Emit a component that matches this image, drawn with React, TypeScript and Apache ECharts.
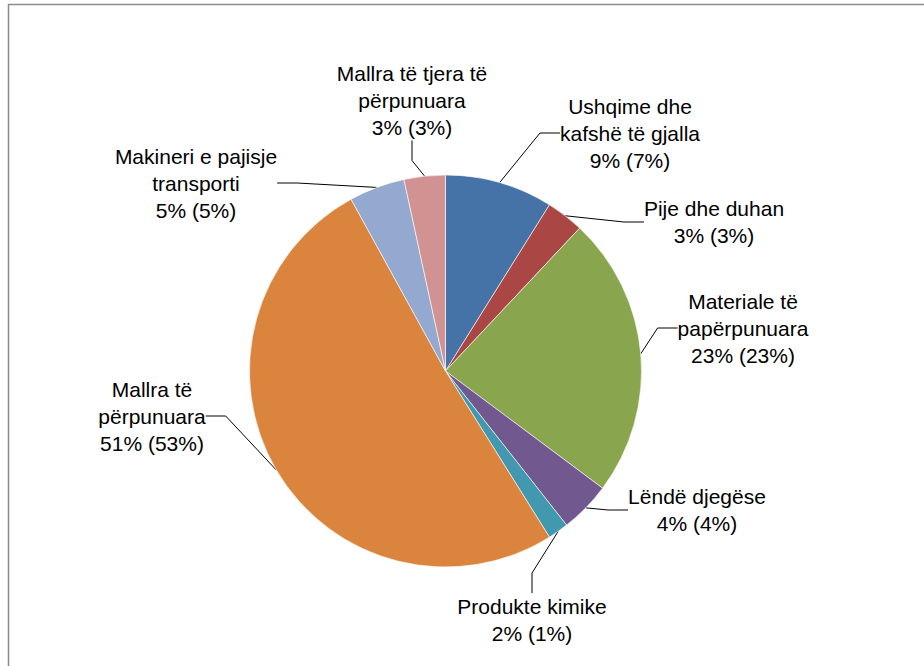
import React, { useEffect, useRef } from "react";
import * as echarts from "echarts";

const categories = [
  "Ushqime dhe\nkafshë të gjalla",
  "Pije dhe duhan",
  "Materiale të\npapërpunuara",
  "Lëndë djegëse",
  "Produkte kimike",
  "Mallra të\npërpunuara",
  "Makineri e pajisje\ntransporti",
  "Mallra të tjera të\npërpunuara",
];
const shares = [8.9, 3.1, 23.2, 4.2, 1.7, 50.9, 4.6, 3.4];
const shareLabels = ["9%", "3%", "23%", "4%", "2%", "51%", "5%", "3%"];
const prevShareLabels = ["7%", "3%", "23%", "4%", "1%", "53%", "5%", "3%"];

const colors = ["#4572A7", "#AA4643", "#89A54E", "#71588F", "#4198AF", "#DB843D", "#93A9CF", "#D19392"];
const labelCenters = [
  [630, 133],
  [714, 222],
  [743, 328],
  [697, 510],
  [532, 620],
  [152, 416],
  [196, 183],
  [412, 100],
];

export default function App() {
  const ref = useRef<HTMLDivElement>(null);
  useEffect(() => {
    if (!ref.current) return;
    const chart = echarts.init(ref.current, null, { renderer: "svg" });
    chart.setOption({
      animation: false,
      backgroundColor: "#ffffff",
      graphic: [
        {
          type: "rect",
          shape: { x: 8.5, y: 4.5, width: 1200, height: 1200 },
          style: { fill: "none", stroke: "#8a8a8a", lineWidth: 1.5 },
          silent: true,
        },
      ],
      series: [
        {
          type: "pie",
          center: [445.5, 371],
          radius: 196,
          startAngle: 90,
          clockwise: true,
          avoidLabelOverlap: false,
          data: categories.map((c, i) => ({
            name: c,
            value: shares[i],
            itemStyle: { color: colors[i] },
          })),
          itemStyle: { borderColor: "#ffffff", borderWidth: 0.6 },
          label: {
            show: true,
            position: "outside",
            formatter: (p: any) =>
              `${p.name}\n${shareLabels[p.dataIndex]} (${prevShareLabels[p.dataIndex]})`,
            fontFamily: "Liberation Sans, Arial, sans-serif",
            fontSize: 21,
            lineHeight: 27,
            color: "#000000",
            align: "center",
          },
          labelLine: {
            show: true,
            length: 20,
            length2: 20,
            lineStyle: { color: "#000000", width: 1 },
          },
          labelLayout: (params: any) => {
            const p = labelCenters[params.dataIndex];
            return { x: p[0], y: p[1], align: "center", verticalAlign: "middle" };
          },
        },
      ],
    });
    return () => chart.dispose();
  }, []);
  return (
    <div
      ref={ref}
      style={{ position: "absolute", left: 0, top: 0, width: 924, height: 666 }}
    />
  );
}
